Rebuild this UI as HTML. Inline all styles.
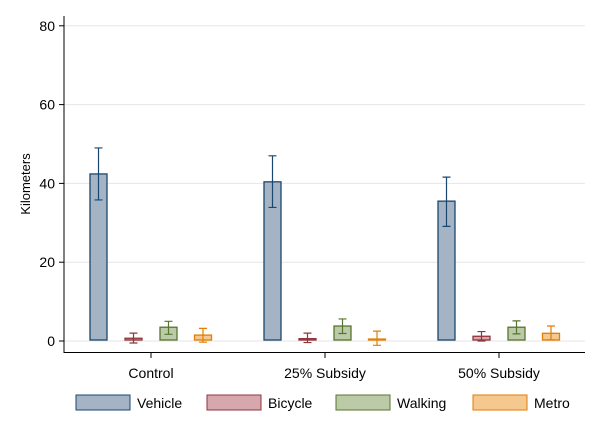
<!DOCTYPE html>
<html><head><meta charset="utf-8"><style>
body{margin:0;background:#fff;font-family:"Liberation Sans",Arial,sans-serif}
svg text{font-family:"Liberation Sans",Arial,sans-serif;fill:#000}
</style></head><body>
<svg id="chart" width="602" height="437"></svg>
<script>
const groups=["Control","25% Subsidy","50% Subsidy"];
const series=["Vehicle","Bicycle","Walking","Metro"];
const vehicle=[42.4,40.4,35.5];
const bicycle=[0.7,0.6,1.2];
const walking=[3.5,3.8,3.5];
const metro=[1.5,0.5,1.95];
const vehicleLo=[35.8,33.9,29.1],vehicleHi=[49,47,41.6];
const bicycleLo=[-0.5,-0.4,0],bicycleHi=[2,2,2.4];
const walkingLo=[1.7,1.9,1.8],walkingHi=[5,5.6,5.1];
const metroLo=[-0.3,-1.1,0.3],metroHi=[3.2,2.5,3.8];
const yTicks=[0,20,40,60,80];
const ns="http://www.w3.org/2000/svg";
const svg=document.getElementById('chart');
function el(t,a,p){const e=document.createElementNS(ns,t);for(const k in a)e.setAttribute(k,a[k]);(p||svg).appendChild(e);return e;}
const y=v=>341-v*3.94;
const gx=i=>151+i*174;
const offs=[-52.5,-17.5,17.5,52];
const fills=["#a5b4c4","#d6a7ac","#bccaa8","#f5c88f"];
const strokes=["#1a476f","#90353b","#55752f","#e37e00"];
const vals=[vehicle,bicycle,walking,metro];
const los=[vehicleLo,bicycleLo,walkingLo,metroLo];
const his=[vehicleHi,bicycleHi,walkingHi,metroHi];
// grid & y ticks
yTicks.forEach(t=>{
 const g=el('line',{x1:64,x2:585,y1:y(t),y2:y(t),stroke:'#e6e6e6','stroke-width':1});
 
 
 const tk=el('line',{x1:59,x2:64,y1:y(t),y2:y(t),stroke:'#000'});
 
 
 const tx=el('text',{x:55,y:y(t)+5,'text-anchor':'end','font-size':14});
 tx.textContent=t;
 
 
});
const ya=el('line',{x1:64,x2:64,y1:16,y2:353,stroke:'#000'});


const xa=el('line',{x1:63.5,x2:585,y1:352.5,y2:352.5,stroke:'#000'});


const yt=el('text',{x:30,y:184,'text-anchor':'middle','font-size':13,transform:'rotate(-90 30 184)'});
yt.textContent='Kilometers';


groups.forEach((g,i)=>{
 const tk=el('line',{x1:gx(i),x2:gx(i),y1:352,y2:358,stroke:'#000'});
 
 
 const tx=el('text',{x:gx(i),y:378,'text-anchor':'middle','font-size':14});
 tx.textContent=g;
 
 
 series.forEach((s,j)=>{
  const cx=gx(i)+offs[j],v=vals[j][i];
  const r=el('rect',{x:cx-8.5,y:Math.min(y(v),340),width:17,height:Math.abs(340-y(v)),fill:fills[j],stroke:strokes[j],'stroke-width':1.3});
  
  
  const lo=y(los[j][i]),hi=y(his[j][i]);
  const e=el('path',{d:`M${cx},${hi}V${lo}M${cx-4},${hi}H${cx+4}M${cx-4},${lo}H${cx+4}`,stroke:strokes[j],'stroke-width':1.2,fill:'none'});
  
  
 });
});
const lx=[76,207,336,473];
series.forEach((s,j)=>{
 const r=el('rect',{x:lx[j],y:395,width:54,height:15,fill:fills[j],stroke:strokes[j],'stroke-width':1});
 
 
 const t=el('text',{x:lx[j]+61,y:408,'font-size':14});
 t.textContent=s;
 
 
});
</script>
</body></html>
